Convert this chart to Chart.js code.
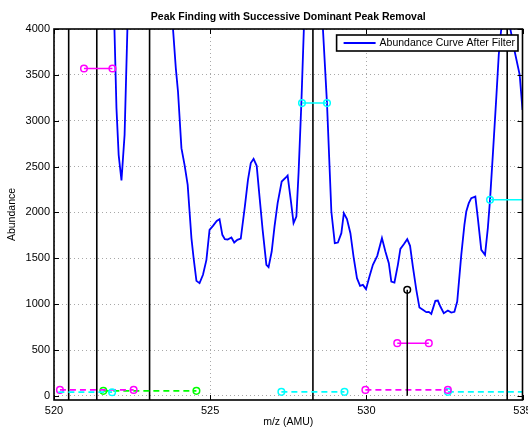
<!DOCTYPE html>
<html>
<head>
<meta charset="utf-8">
<title>Peak Finding with Successive Dominant Peak Removal</title>
<script src="https://cdn.jsdelivr.net/npm/chart.js@4.4.1/dist/chart.umd.min.js"></script>
<style>
    html, body { margin: 0; padding: 0; background: #fff; }
    #wrap { width: 528px; height: 430px; }
</style>
</head>
<body>
<div id="wrap"><canvas id="peakChart" width="528" height="430"></canvas></div>
<script>
// Texts
const chartTitle = 'Peak Finding with Successive Dominant Peak Removal';
const curveLabel = 'Abundance Curve After Filter';
const xTitle = 'm/z (AMU)';
const yTitle = 'Abundance';

// Axes
const xTicks = [520, 525, 530, 535];
const yTicks = [0, 500, 1000, 1500, 2000, 2500, 3000, 3500, 4000];
const xRange = [520, 535];
const yRange = [-45, 4000];

// Filtered abundance curve (values above 4000 run off the top of the plot)
const mz = [
    520.00, 520.47, 520.90, 521.37, 521.80, 521.935, 522.00, 522.07, 522.16, 522.26,
    522.35, 522.60, 523.06, 523.55, 523.81, 523.90, 523.97, 524.08, 524.18, 524.28,
    524.34, 524.40, 524.47, 524.56, 524.66, 524.77, 524.88, 524.98, 525.09, 525.21,
    525.30, 525.39, 525.47, 525.56, 525.68, 525.77, 525.87, 525.98, 526.11, 526.21,
    526.30, 526.39, 526.49, 526.58, 526.68, 526.80, 526.87, 526.97, 527.06, 527.16,
    527.29, 527.45, 527.48, 527.58, 527.67, 527.76, 527.83, 527.92, 528.00, 528.29,
    528.61, 528.74, 528.88, 528.99, 529.09, 529.20, 529.28, 529.38, 529.49, 529.59,
    529.70, 529.80, 529.89, 529.99, 530.10, 530.21, 530.35, 530.50, 530.61, 530.72,
    530.80, 530.90, 531.01, 531.09, 531.20, 531.31, 531.40, 531.49, 531.60, 531.70,
    531.81, 531.92, 532.00, 532.08, 532.21, 532.29, 532.37, 532.48, 532.61, 532.72,
    532.82, 532.91, 533.04, 533.14, 533.20, 533.28, 533.36, 533.49, 533.57, 533.68,
    533.80, 533.89, 533.96, 534.05, 534.16, 534.24, 534.32, 534.47, 534.61, 534.75,
    534.91, 535.00
];
const abundance = [
    5200, 9000, 7000, 14000, 5800, 4002, 3137, 2628, 2348, 2846,
    4002, 7000, 16000, 7000, 4002, 3574, 3318, 2701, 2519, 2301,
    2010, 1720, 1502, 1254, 1229, 1320, 1483, 1810, 1854, 1908,
    1927, 1756, 1709, 1705, 1726, 1672, 1701, 1715, 2064, 2355,
    2538, 2584, 2508, 2173, 1810, 1429, 1403, 1574, 1846, 2101,
    2337, 2391, 2402, 2137, 1883, 1955, 2429, 3192, 4002, 9000,
    4002, 3192, 2010, 1665, 1672, 1774, 1992, 1927, 1774, 1519,
    1283, 1200, 1210, 1164, 1301, 1429, 1527, 1720, 1574, 1447,
    1246, 1236, 1429, 1603, 1654, 1709, 1636, 1410, 1156, 963,
    938, 913, 916, 894, 1036, 1039, 974, 902, 930, 908,
    916, 1028, 1538, 1865, 2010, 2101, 2156, 2173, 1938, 1592,
    1538, 1829, 2137, 2628, 3246, 3719, 4002, 5200, 4002, 3755,
    3500, 3119
];

// Dominant peaks found so far
const peakLocations = [520.47, 521.37, 523.06, 528.29, 534.51];
const stemX = 531.31;
const stemHeight = 1156;

// Half-height width segments (solid) : magenta, magenta, cyan, cyan
const solidSegX = [[520.96, 521.87], [530.99, 532.00], [527.94, 528.74], [533.96, 535.5]];
const solidSegY = [3569, 575, 3192, 2137];

// Base-level width segments (dashed) : cyan, magenta, green, cyan, magenta, cyan
const dashSegX = [[519.5, 521.86], [520.19, 522.55], [521.58, 524.56], [527.28, 529.30], [529.97, 532.61], [532.61, 535.5]];
const dashSegY = [40, 65, 55, 44, 65, 44];

// Styles
const FONT = '"Liberation Sans", Arial, Helvetica, sans-serif';
const solidColors = ['#ff00ff', '#ff00ff', '#00ffff', '#00ffff'];
const dashColors = ['#00ffff', '#ff00ff', '#00ff00', '#00ffff', '#ff00ff', '#00ffff'];
const markerRadius = 3.3;

Chart.defaults.font.family = FONT;
Chart.defaults.color = '#000';

function segmentPoints(xs, y) {
    return xs.map(x => ({ x: x, y: y }));
}

// no marker on an end that lies outside the x range
function segmentRadii(xs) {
    return xs.map(x => (x < xRange[0] || x > xRange[1]) ? 0 : markerRadius);
}

const datasets = [];

// stem with circle on top
datasets.push({
    data: [{ x: stemX, y: 0 }, { x: stemX, y: stemHeight }],
    borderColor: '#000',
    borderWidth: 1.5,
    pointRadius: [0, markerRadius],
    pointBorderWidth: 1.5,
    pointBorderColor: '#000',
    pointBackgroundColor: 'rgba(0,0,0,0)'
});

solidSegX.forEach((xs, i) => {
    datasets.push({
        data: segmentPoints(xs, solidSegY[i]),
        borderColor: solidColors[i],
        borderWidth: 1.5,
        pointRadius: segmentRadii(xs),
        pointBorderWidth: 1.5,
        pointBorderColor: solidColors[i],
        pointBackgroundColor: 'rgba(0,0,0,0)'
    });
});

dashSegX.forEach((xs, i) => {
    datasets.push({
        data: segmentPoints(xs, dashSegY[i]),
        borderColor: dashColors[i],
        borderWidth: 1.8,
        borderDash: [6, 4],
        pointRadius: segmentRadii(xs),
        pointBorderWidth: 1.5,
        pointBorderColor: dashColors[i],
        pointBackgroundColor: 'rgba(0,0,0,0)'
    });
});

// full height lines at each removed peak
peakLocations.forEach(p => {
    datasets.push({
        data: [{ x: p, y: yRange[0] }, { x: p, y: yRange[1] }],
        borderColor: '#000',
        borderWidth: 1.6,
        pointRadius: 0
    });
});

// the curve itself goes last so it is drawn underneath
datasets.push({
    label: curveLabel,
    data: mz.map((x, i) => ({ x: x, y: abundance[i] })),
    borderColor: '#0000ff',
    borderWidth: 1.8,
    pointRadius: 0
});

datasets.forEach(d => { d.tension = 0; d.clip = 0; d.fill = false; });

// MATLAB style box, inward ticks, legend and title
const matlabAxes = {
    id: 'matlabAxes',
    afterDatasetsDraw(chart) {
        const { ctx, chartArea: a, scales: { x, y } } = chart;
        ctx.save();

        ctx.strokeStyle = '#000';
        ctx.lineWidth = 1;
        ctx.beginPath();
        xTicks.forEach(v => {
            const px = Math.round(x.getPixelForValue(v)) + 0.5;
            ctx.moveTo(px, a.bottom); ctx.lineTo(px, a.bottom - 5);
            ctx.moveTo(px, a.top); ctx.lineTo(px, a.top + 5);
        });
        yTicks.forEach(v => {
            const py = Math.round(y.getPixelForValue(v)) + 0.5;
            ctx.moveTo(a.left, py); ctx.lineTo(a.left + 5, py);
            ctx.moveTo(a.right, py); ctx.lineTo(a.right - 5, py);
        });
        ctx.stroke();

        ctx.lineWidth = 1.6;
        ctx.strokeRect(a.left, a.top, a.right - a.left, a.bottom - a.top);

        // legend box
        ctx.font = '10.5px ' + FONT;
        const tw = ctx.measureText(curveLabel).width;
        const right = a.right - 4.5;
        const top = a.top + 6;
        const h = 16;
        const left = right - (tw + 3 + 4 + 32 + 7);
        ctx.fillStyle = '#fff';
        ctx.fillRect(left, top, right - left, h);
        ctx.lineWidth = 1.6;
        ctx.strokeRect(left, top, right - left, h);
        ctx.strokeStyle = '#0000ff';
        ctx.lineWidth = 1.8;
        ctx.beginPath();
        ctx.moveTo(left + 7, top + h / 2);
        ctx.lineTo(left + 39, top + h / 2);
        ctx.stroke();
        ctx.fillStyle = '#000';
        ctx.textAlign = 'left';
        ctx.textBaseline = 'middle';
        ctx.fillText(curveLabel, left + 43, top + h / 2 + 0.5);

        // title
        ctx.font = 'bold 10.5px ' + FONT;
        ctx.textAlign = 'center';
        ctx.fillText(chartTitle, (a.left + a.right) / 2, 17);

        ctx.restore();
    }
};

const ctx = document.getElementById('peakChart').getContext('2d');
const peakChart = new Chart(ctx, {
    type: 'line',
    data: { datasets: datasets },
    options: {
        responsive: false,
        animation: false,
        layout: { padding: { top: 29, right: 5, left: 0, bottom: 0 } },
        plugins: {
            legend: { display: false },
            tooltip: { enabled: false }
        },
        scales: {
            x: {
                type: 'linear',
                min: xRange[0],
                max: xRange[1],
                afterBuildTicks: s => { s.ticks = xTicks.map(v => ({ value: v })); },
                // let the last label run past the edge like the original
                afterFit: s => { s.height = 30; s.paddingLeft = 0; s.paddingRight = 0; },
                grid: { color: '#a8a8a8', lineWidth: 1, drawTicks: false },
                border: { display: false, dash: [1, 3] },
                ticks: { padding: 4, maxRotation: 0, font: { size: 11 }, color: '#000', callback: v => String(v) },
                title: { display: true, text: xTitle, color: '#000', font: { size: 10.5 }, padding: { top: 0, bottom: 2 } }
            },
            y: {
                type: 'linear',
                min: yRange[0],
                max: yRange[1],
                afterBuildTicks: s => { s.ticks = yTicks.map(v => ({ value: v })); },
                afterFit: s => { s.width = 54; },
                grid: { color: '#a8a8a8', lineWidth: 1, drawTicks: false },
                border: { display: false, dash: [1, 3] },
                ticks: { padding: 4, font: { size: 11 }, color: '#000', callback: v => String(v) },
                title: { display: true, text: yTitle, color: '#000', font: { size: 10.5 }, padding: { top: 6, bottom: 0 } }
            }
        }
    },
    plugins: [matlabAxes]
});
</script>
</body>
</html>
